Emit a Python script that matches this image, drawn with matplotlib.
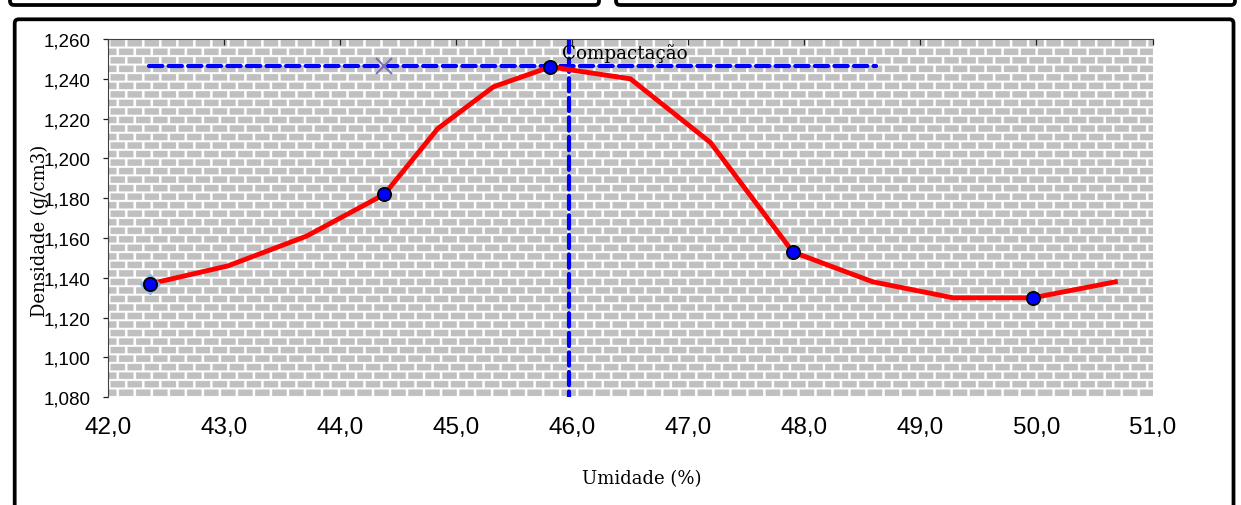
import numpy as np
import matplotlib.pyplot as plt
from matplotlib.patches import FancyBboxPatch
from matplotlib.transforms import IdentityTransform
from matplotlib.ticker import FuncFormatter

# pontos ensaiados (umidade %, densidade g/cm3)
umid_pts = [42.36, 44.38, 45.81, 47.90, 49.97]
dens_pts = [1.137, 1.182, 1.246, 1.153, 1.130]

# curva de compactacao (suavizada)
umid_curve = [42.36, 43.03, 43.71, 44.38, 44.84, 45.32, 45.81, 46.50, 47.19,
              47.90, 48.59, 49.28, 49.97, 50.68]
dens_curve = [1.137, 1.146, 1.161, 1.182, 1.215, 1.236, 1.246, 1.240, 1.208,
              1.153, 1.138, 1.130, 1.130, 1.138]

# umidade otima / densidade maxima
umid_otima = 45.97
dens_max = 1.2464
hline_x = [42.35, 48.62]
x_mark = 44.38

W, H = 1241, 506
fig = plt.figure(figsize=(W / 100, H / 100), dpi=100)
ax = fig.add_axes([108.3 / W, 1 - 398.3 / H, (1152.5 - 108.3) / W, (398.3 - 40) / H])

# fundo de tijolos (padrao do excel)
s = 2
h, w = int(358 * s), int(1044 * s)
yy, xx = np.mgrid[0:h, 0:w]
row = yy // 17
shift = (row % 2) * 17
brick = ((yy % 17) >= 4) & (((xx + shift) % 34) >= 5)
img = np.where(brick, 0.753, 1.0)
ax.imshow(img, cmap='gray', vmin=0, vmax=1, extent=[42, 51, 1.08, 1.26],
          aspect='auto', interpolation='antialiased', zorder=0)

# linhas tracejadas azuis
ax.plot(hline_x, [dens_max, dens_max], color='#0000ff', lw=3, dashes=[3.2, 1.5],
        dash_capstyle='round', zorder=2)
ax.plot([umid_otima, umid_otima], [1.26, 1.08], color='#0000ff', lw=3, dashes=[3.2, 1.5],
        dash_capstyle='round', zorder=2)

# curva
ax.plot(umid_curve, dens_curve, color='#ff0000', lw=3.5, solid_joinstyle='miter', zorder=3)
ax.plot(umid_pts[0], dens_pts[0], marker='D', ms=10, color='#8db3e2', ls='none', zorder=3.5)
ax.plot(umid_pts, dens_pts, 'o', ms=9.5, mfc='#0000ff', mec='black', mew=1.3, zorder=4)
ax.plot(x_mark, dens_max, marker='x', ms=11, mew=1.5, color='#7f6fb3', ls='none', zorder=4)

ax.text(45.91, 1.2505, 'Compactação', family='DejaVu Serif', fontsize=13.2,
        ha='left', va='baseline', zorder=5)

ax.set_xlim(42, 51)
ax.set_ylim(1.08, 1.26)
ax.set_xticks(np.arange(42, 51.01, 1))
ax.set_yticks(np.arange(1.08, 1.2601, 0.02))
ax.xaxis.set_major_formatter(FuncFormatter(lambda v, p: f'{v:.1f}'.replace('.', ',')))
ax.yaxis.set_major_formatter(FuncFormatter(lambda v, p: f'{v:,.3f}'.replace('.', ',')))

for sp in ['right', 'bottom']:
    ax.spines[sp].set_visible(False)
ax.spines['top'].set_color('#404040')
ax.spines['left'].set_color('#404040')
ax.tick_params(axis='x', top=True, bottom=False, labeltop=False, labelbottom=True,
               direction='in', length=4.3, width=0.9, pad=13.5, labelsize=17.5,
               color='#202020')
ax.tick_params(axis='y', direction='out', length=3.6, width=0.9, pad=9, labelsize=13.5,
               color='#202020')
for lb in ax.get_xticklabels() + ax.get_yticklabels():
    lb.set_family('Liberation Sans')

# o rotulo do eixo y fica sobre os numeros, como no original
fig.text(40 / W, 1 - 231 / H, 'Densidade (g/cm3)', family='DejaVu Serif', fontsize=13,
         rotation=90, ha='center', va='center')
fig.text(642 / W, 1 - 479 / H, 'Umidade (%)', family='DejaVu Serif', fontsize=13,
         ha='center', va='center')

# molduras (em pixels)
def moldura(x0, y0, x1, y1):
    p = FancyBboxPatch((x0, H - y1), x1 - x0, y1 - y0, boxstyle='round,pad=0,rounding_size=4',
                       fill=False, ec='black', lw=2.7, transform=IdentityTransform())
    fig.add_artist(p)

moldura(10, -20, 599, 6)
moldura(616, -20, 1235, 6)
moldura(14.7, 20.3, 1233.5, 540)

fig.savefig('out.png', dpi=100)
